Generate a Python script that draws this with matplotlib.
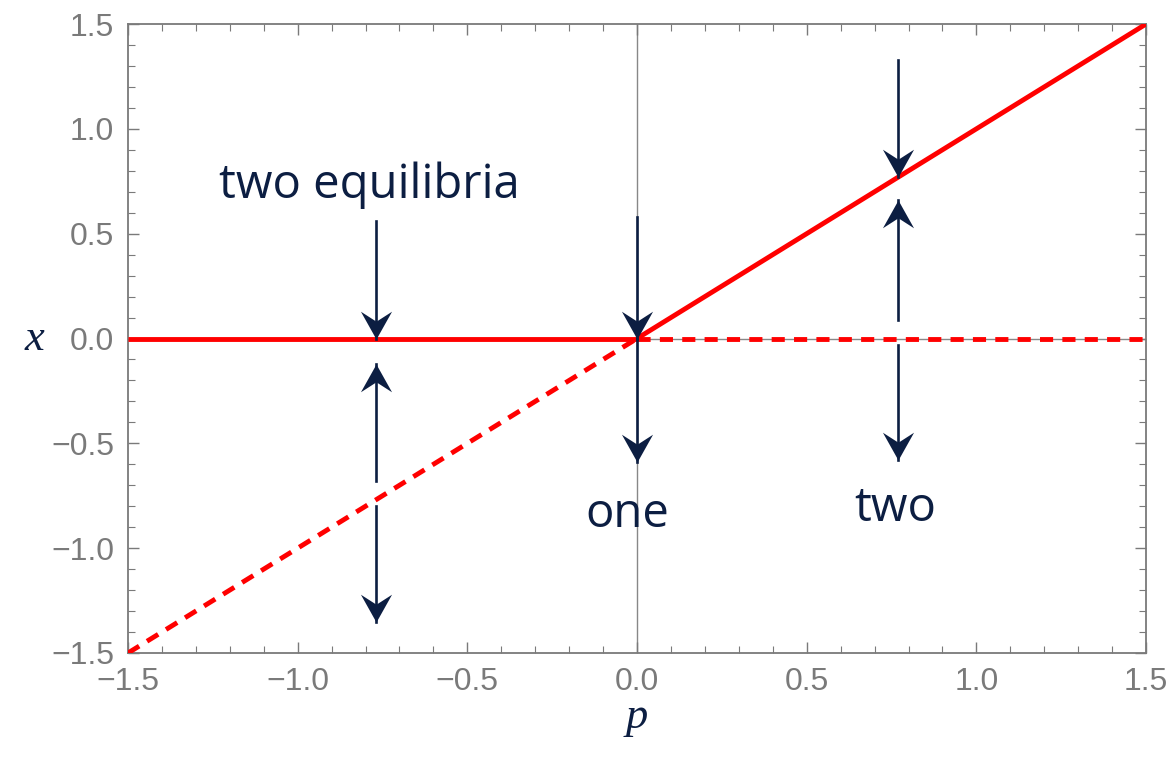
import numpy as np
import matplotlib
matplotlib.use('agg')
import matplotlib.pyplot as plt
from matplotlib.path import Path
from matplotlib.ticker import MultipleLocator

# branches of equilibria x*(p)
p_neg = [-1.5, 0.0]
p_pos = [0.0, 1.5]
x_zero_neg = [0.0, 0.0]      # x = 0 for p < 0 (stable)
x_diag_neg = [-1.5, 0.0]     # x = p for p < 0 (unstable)
x_zero_pos = [0.0, 0.0]      # x = 0 for p > 0 (unstable)
x_diag_pos = [0.0, 1.5]      # x = p for p > 0 (stable)

# flow arrows: (p, tail x, head x)
arrow_p = [-0.77, -0.77, -0.77, 0.0, 0.0, 0.77, 0.77, 0.77]
arrow_tail = [0.56, -0.68, -0.80, 0.58, 0.0, 1.33, 0.09, -0.03]
arrow_head = [0.0, -0.12, -1.35, 0.0, -0.59, 0.77, 0.66, -0.58]

labels = ['two equilibria', 'one', 'two']
label_p = [-0.79, -0.03, 0.76]
label_x = [0.73, -0.84, -0.81]

navy = '#0c1e42'
grey = '#7a7a7a'

# notched arrow head, tip at the origin pointing down
head_down = Path([(0, 0), (-0.56, 1.0), (0, 0.64), (0.56, 1.0), (0, 0)],
                 [Path.MOVETO, Path.LINETO, Path.LINETO, Path.LINETO, Path.CLOSEPOLY])
head_up = Path(head_down.vertices * [1, -1], head_down.codes)

fig = plt.figure(figsize=(11.71, 7.6), dpi=100)
ax = fig.add_axes([0.1093, 0.1408, 0.8694, 0.8276])

ax.axhline(0, color='#888888', lw=1.0, zorder=1)
ax.axvline(0, color='#888888', lw=1.0, zorder=1)

red = '#ff0000'
ax.plot(p_neg, x_zero_neg, color=red, lw=3.5, solid_capstyle='butt', zorder=3)
ax.plot(p_pos, x_diag_pos, color=red, lw=3.5, solid_capstyle='butt', zorder=3)
ax.plot(p_neg, x_diag_neg, color=red, lw=3.5, ls=(0, (2.7, 1.9)), zorder=3)
ax.plot(p_pos, x_zero_pos, color=red, lw=3.5, ls=(0, (2.7, 1.9)), zorder=3)

for p, a, b in zip(arrow_p, arrow_tail, arrow_head):
    ax.plot([p, p], [a, b], color=navy, lw=1.9, zorder=4)
    mk = head_down if b < a else head_up
    ax.plot([p], [b], marker=mk, markersize=40, color=navy,
            markeredgewidth=0, linestyle='none', zorder=5)

for s, p, x in zip(labels, label_p, label_x):
    ax.text(p, x, s, fontsize=34, family='Open Sans', color=navy,
            ha='center', va='center', zorder=6)

ax.set_xlim(-1.5, 1.5)
ax.set_ylim(-1.5, 1.5)
ax.xaxis.set_major_locator(MultipleLocator(0.5))
ax.yaxis.set_major_locator(MultipleLocator(0.5))
ax.xaxis.set_minor_locator(MultipleLocator(0.1))
ax.yaxis.set_minor_locator(MultipleLocator(0.1))
ax.tick_params(which='both', direction='in', top=True, right=True,
               color=grey, labelcolor=grey, labelsize=23)
ax.tick_params(which='major', length=8, width=1.0, pad=10)
ax.tick_params(which='minor', length=5, width=0.8)
fmt = plt.FuncFormatter(lambda v, _: f'{v:.1f}'.replace('-', '\u2212'))
ax.xaxis.set_major_formatter(fmt)
ax.yaxis.set_major_formatter(fmt)
for lab in ax.get_xticklabels() + ax.get_yticklabels():
    lab.set_family('Liberation Sans')
for sp in ax.spines.values():
    sp.set_color(grey)
    sp.set_linewidth(1.3)

ax.set_xlabel('p', fontsize=32, family='Liberation Serif', style='italic',
              color=navy, labelpad=0)
ax.set_ylabel('x', fontsize=32, family='Liberation Serif', style='italic',
              color=navy, rotation=0, labelpad=12, va='center')

fig.savefig('out.png', dpi=100)
